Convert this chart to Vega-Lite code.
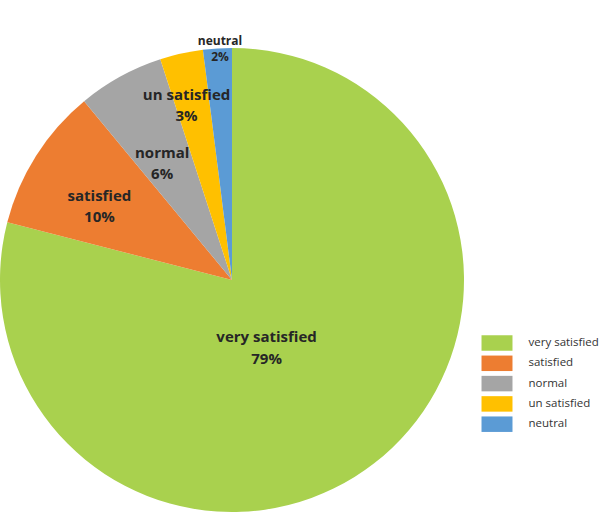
{
  "$schema": "https://vega.github.io/schema/vega-lite/v6.json",
  "width": 464,
  "height": 464,
  "autosize": {"type": "none"},
  "padding": {"left": 0, "top": 48, "right": 136, "bottom": 1},
  "background": "white",
  "view": {"stroke": null},
  "config": {"font": "Open Sans"},
  "data": {
    "values": [
      {"category": "very satisfied", "value": 79, "rank": 1},
      {"category": "satisfied", "value": 10, "rank": 2},
      {"category": "normal", "value": 6, "rank": 3},
      {"category": "un satisfied", "value": 3, "rank": 4},
      {"category": "neutral", "value": 2, "rank": 5}
    ]
  },
  "transform": [
    {"stack": "value", "groupby": [], "sort": [{"field": "rank", "order": "ascending"}], "as": ["start", "end"]},
    {"calculate": "(datum.start + datum.end) / 2", "as": "mid"},
    {"calculate": "[datum.category, datum.value + '%']", "as": "label"}
  ],
  "layer": [
    {
      "mark": {"type": "arc", "radius": 232},
      "encoding": {
        "theta": {"field": "start", "type": "quantitative", "scale": {"domain": [0, 100]}, "stack": null},
        "theta2": {"field": "end"},
        "color": {
          "field": "category",
          "type": "nominal",
          "scale": {
            "domain": ["very satisfied", "satisfied", "normal", "un satisfied", "neutral"],
            "range": ["#A9D14E", "#ED7D31", "#A5A5A5", "#FFC000", "#5B9BD5"]
          },
          "legend": {
            "title": null,
            "orient": "none",
            "legendX": 489,
            "legendY": 287,
            "symbolType": "M-2,-1H2V1H-2Z",
            "symbolSize": 240,
            "symbolStrokeWidth": 0,
            "labelFont": "Open Sans",
            "labelFontSize": 11.5,
            "labelColor": "#333333",
            "labelOffset": 23.5,
            "rowPadding": 4.3
          }
        }
      }
    },
    {
      "transform": [{"filter": "datum.category == 'very satisfied'"}],
      "mark": {"type": "text", "radius": 76, "dx": -12, "dy": -3, "fontSize": 15, "fontWeight": "bold", "color": "#262626", "lineHeight": 22, "align": "center", "baseline": "middle"},
      "encoding": {"theta": {"field": "mid", "type": "quantitative", "stack": null}, "text": {"field": "label"}}
    },
    {
      "transform": [{"filter": "datum.category == 'satisfied'"}],
      "mark": {"type": "text", "radius": 157, "fontSize": 15, "fontWeight": "bold", "color": "#262626", "lineHeight": 21, "align": "center", "baseline": "middle"},
      "encoding": {"theta": {"field": "mid", "type": "quantitative", "stack": null}, "text": {"field": "label"}}
    },
    {
      "transform": [{"filter": "datum.category == 'normal'"}],
      "mark": {"type": "text", "radius": 145, "fontSize": 15, "fontWeight": "bold", "color": "#262626", "lineHeight": 21, "align": "center", "baseline": "middle"},
      "encoding": {"theta": {"field": "mid", "type": "quantitative", "stack": null}, "text": {"field": "label"}}
    },
    {
      "transform": [{"filter": "datum.category == 'un satisfied'"}],
      "mark": {"type": "text", "radius": 190, "dx": -4, "fontSize": 15, "fontWeight": "bold", "color": "#262626", "lineHeight": 21, "align": "center", "baseline": "middle"},
      "encoding": {"theta": {"field": "mid", "type": "quantitative", "stack": null}, "text": {"field": "label"}}
    },
    {
      "transform": [{"filter": "datum.category == 'neutral'"}],
      "mark": {"type": "text", "radius": 239, "dx": 3, "fontSize": 12, "fontWeight": "bold", "color": "#262626", "lineHeight": 16, "align": "center", "baseline": "middle"},
      "encoding": {"theta": {"field": "mid", "type": "quantitative", "stack": null}, "text": {"field": "label"}}
    }
  ]
}
